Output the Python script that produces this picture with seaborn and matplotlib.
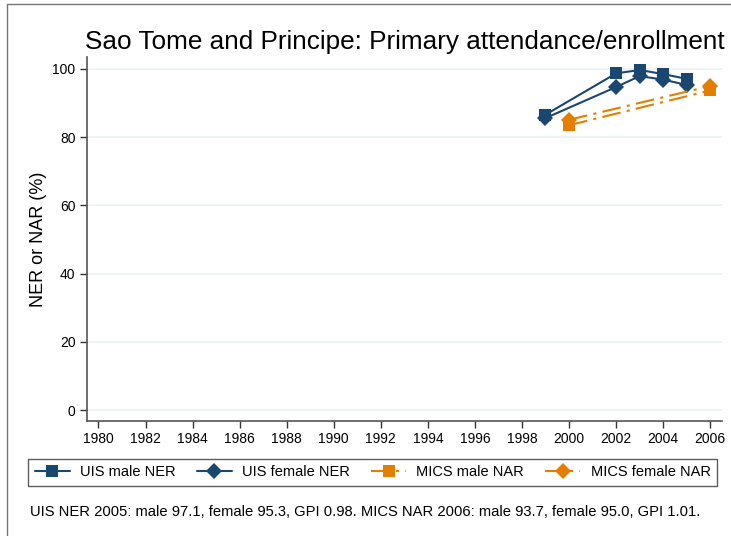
import numpy as np
import pandas as pd
import matplotlib
matplotlib.use('Agg')
import matplotlib.pyplot as plt
import seaborn as sns
from matplotlib.lines import Line2D

# Data
uis_years = [1999, 2002, 2003, 2004, 2005]
uis_male = [86.6, 98.7, 99.7, 98.5, 97.1]
uis_female = [85.6, 94.7, 97.9, 96.9, 95.3]
mics_years = [2000, 2006]
mics_male = [83.5, 93.7]
mics_female = [85.1, 95.0]

navy = '#1a476f'
orange = '#e37e00'
dashdot = (0, (9, 3, 1.5, 3))

sns.set_style('white')
plt.rcParams['font.family'] = ['Liberation Sans', 'DejaVu Sans']
plt.rcParams['text.color'] = 'black'
plt.rcParams['axes.labelcolor'] = 'black'
plt.rcParams['xtick.color'] = 'black'
plt.rcParams['ytick.color'] = 'black'

fig = plt.figure(figsize=(7.31, 5.36), dpi=100)
ax = fig.add_axes([0.1186, 0.2146, 0.869, 0.679])

sns.lineplot(x=uis_years, y=uis_male, ax=ax, color=navy, lw=1.5, marker='s',
             markersize=8, markeredgewidth=0, label='UIS male NER')
sns.lineplot(x=uis_years, y=uis_female, ax=ax, color=navy, lw=1.5, marker='D',
             markersize=8, markeredgewidth=0, label='UIS female NER')
sns.lineplot(x=mics_years, y=mics_male, ax=ax, color=orange, lw=1.5, marker='s',
             markersize=8, markeredgewidth=0, linestyle=dashdot, label='MICS male NAR')
sns.lineplot(x=mics_years, y=mics_female, ax=ax, color=orange, lw=1.5, marker='D',
             markersize=8, markeredgewidth=0, linestyle=dashdot, label='MICS female NAR')

ax.set_xlim(1979.5, 2006.5)
ax.set_ylim(-3.2, 103.5)
ax.set_xticks(np.arange(1980, 2007, 2))
ax.set_yticks(np.arange(0, 101, 20))
ax.yaxis.grid(True, color='#eaf2f3', lw=1.2)
ax.set_axisbelow(True)
for s in ['top', 'right']:
    ax.spines[s].set_visible(False)
for s in ['left', 'bottom']:
    ax.spines[s].set_color('#555555')
    ax.spines[s].set_linewidth(1.2)
ax.tick_params(axis='both', direction='out', length=5, width=1, color='#333333',
               labelsize=10, pad=3, left=True, bottom=True)
ax.set_xlabel('')
ax.set_ylabel('NER or NAR (%)', fontsize=13, labelpad=4)
ax.set_title('Sao Tome and Principe: Primary attendance/enrollment', fontsize=18.8,
             pad=6, x=0.5)

leg = ax.legend(loc='upper left', bbox_to_anchor=(-0.0924, -0.195, 1.085, 0.091), ncol=4,
                mode='expand', fontsize=10.5, frameon=True, fancybox=False,
                edgecolor='#333333', handlelength=2.4, borderpad=0.45, handletextpad=0.7,
                borderaxespad=0)
leg.get_frame().set_linewidth(1)

fig.text(0.041, 0.037, 'UIS NER 2005: male 97.1, female 95.3, GPI 0.98. MICS NAR 2006: '
         'male 93.7, female 95.0, GPI 1.01.', fontsize=10.6)

# outer frame
fig.add_artist(Line2D([7/731, 7/731], [0, 1-4/536], color='#777777', lw=1, transform=fig.transFigure))
fig.add_artist(Line2D([7/731, 1], [1-4/536, 1-4/536], color='#777777', lw=1, transform=fig.transFigure))

fig.savefig('out.png', dpi=100)
